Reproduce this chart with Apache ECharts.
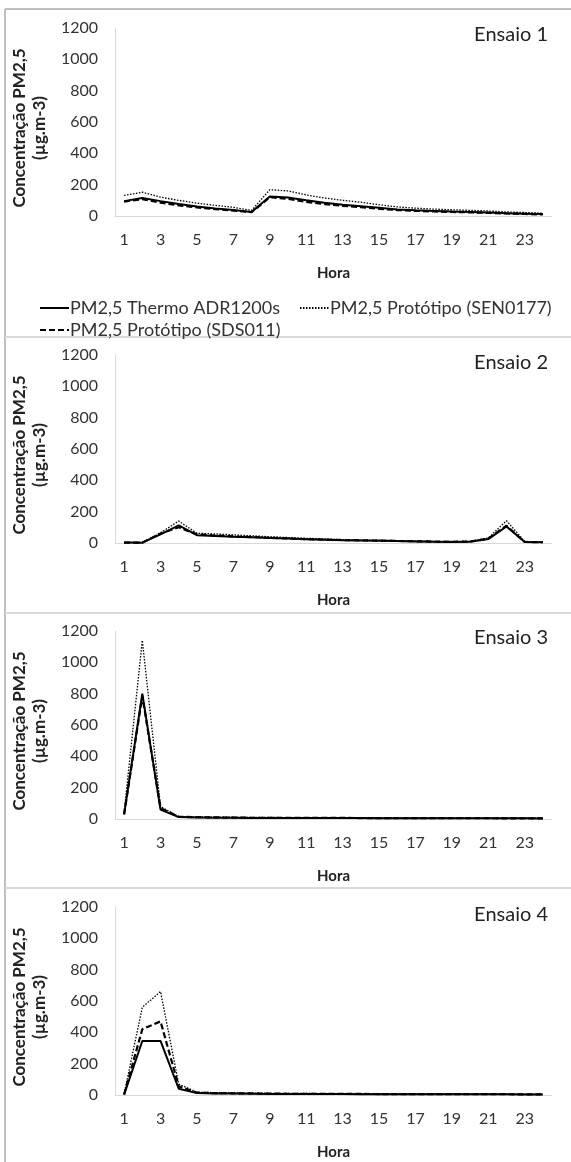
<!DOCTYPE html>
<html>
<head>
<meta charset="utf-8">
<script src="https://cdn.jsdelivr.net/npm/echarts@6/dist/echarts.min.js"></script>
<style>
html,body{margin:0;padding:0;background:#fff;}
#c{width:571px;height:1162px;}
</style>
</head>
<body>
<div id="c"></div>
<script>
const hours = ['1','2','3','4','5','6','7','8','9','10','11','12','13','14','15','16','17','18','19','20','21','22','23','24'];
const seriesNames = ['PM2,5 Thermo ADR1200s','PM2,5 Protótipo (SDS011)','PM2,5 Protótipo (SEN0177)'];
const panelTitles = ['Ensaio 1','Ensaio 2','Ensaio 3','Ensaio 4'];
const yTicks = [0,200,400,600,800,1000,1200];

// Ensaio 1
const e1Thermo = [95,115,95,76,60,48,38,25,125,118,100,85,72,62,52,42,36,32,28,25,22,18,15,12];
const e1SDS    = [92,108,85,68,55,44,34,24,120,110,90,76,65,56,46,38,33,29,26,23,20,16,13,10];
const e1SEN    = [132,152,120,100,82,68,55,35,168,160,135,115,100,88,72,58,50,44,40,36,32,26,22,18];
// Ensaio 2
const e2Thermo = [3,2,55,112,50,45,40,36,32,28,24,21,18,16,15,12,10,8,7,8,25,105,6,4];
const e2SDS    = [2,2,60,100,55,48,42,38,33,29,25,22,19,17,15,13,11,9,8,9,28,110,7,5];
const e2SEN    = [4,3,65,140,62,58,52,46,40,35,30,26,22,20,18,15,13,11,10,12,32,142,10,6];
// Ensaio 3
const e3Thermo = [30,800,60,12,10,8,8,7,7,7,6,6,6,6,5,5,5,5,4,4,4,4,4,3];
const e3SDS    = [30,785,70,14,12,10,9,8,8,8,7,7,7,6,6,6,6,5,5,5,5,4,4,4];
const e3SEN    = [40,1140,80,15,14,12,11,10,10,9,9,9,8,8,8,7,7,7,6,6,6,6,5,5];
// Ensaio 4
const e4Thermo = [2,345,345,40,12,10,9,8,7,7,6,6,6,5,5,5,5,4,4,4,4,4,3,3];
const e4SDS    = [3,420,470,55,15,12,11,10,9,8,8,7,7,7,6,6,6,5,5,5,5,5,4,4];
const e4SEN    = [5,560,660,70,18,15,13,12,11,10,10,9,9,8,8,8,7,7,7,6,6,6,6,5];

const panels = [
  [e1Thermo,e1SDS,e1SEN],
  [e2Thermo,e2SDS,e2SEN],
  [e3Thermo,e3SDS,e3SEN],
  [e4Thermo,e4SDS,e4SEN]
];

const FONT = 'Lato';
const gridTops = [28,355,631,907];
const gridH = 188;

const grids = gridTops.map(t => ({left:115, right:19, top:t, height:gridH, containLabel:false}));
const xAxes = gridTops.map((t,i) => ({
  type:'category', gridIndex:i, data:hours, boundaryGap:true,
  axisLine:{show:true, lineStyle:{color:'#d9d9d9', width:1}},
  axisTick:{show:false},
  axisLabel:{interval:1, margin:16, fontFamily:FONT, fontSize:16, color:'#333'},
  name:'Hora', nameLocation:'middle', nameGap:50,
  nameTextStyle:{fontFamily:FONT, fontSize:15, fontWeight:'bold', color:'#222'}
}));
const yAxes = gridTops.map((t,i) => ({
  type:'value', gridIndex:i, min:yTicks[0], max:yTicks[yTicks.length-1], interval:200,
  axisLine:{show:true, lineStyle:{color:'#d9d9d9', width:1}},
  axisTick:{show:false}, splitLine:{show:false},
  axisLabel:{margin:17, fontFamily:FONT, fontSize:16, color:'#333', formatter: v => String(v)},
  name:'Concentração PM2,5\n(µg.m-3)', nameLocation:'middle', nameRotate:90, nameGap:46,
  nameTextStyle:{fontFamily:FONT, fontSize:17, fontWeight:'bold', color:'#222', lineHeight:20, padding:[0,0,0,-12]}
}));

const styles = [
  {type:'solid', width:2},
  {type:[6,3], width:2.2},
  {type:[1.5,1.5], width:1.3}
];
const series = [];
panels.forEach((p,i) => {
  p.forEach((d,j) => {
    series.push({
      name:seriesNames[j], type:'line', xAxisIndex:i, yAxisIndex:i,
      data:d, symbol:'none', animation:false, color:'#000',
      itemStyle:{color:'#000'},
      lineStyle:{color:'#000', type:styles[j].type, width:styles[j].width},
      z: 3 - j
    });
  });
});

const titleCenters = [32,360,635,912];
const titles = panelTitles.map((t,i) => ({
  text:t, right:18, top:titleCenters[i]-12,
  textStyle:{fontFamily:FONT, fontSize:20, fontWeight:'normal', color:'#222'}
}));

const legendCommon = {
  itemWidth:29, itemHeight:14, itemGap:10,
  textStyle:{fontFamily:FONT, fontSize:18, color:'#333', padding:[0,0,0,-4]},
  itemStyle:{opacity:0},
  selectedMode:true
};
const legends = [
  Object.assign({}, legendCommon, {left:34, top:294, data:[seriesNames[0]]}),
  Object.assign({}, legendCommon, {left:294, top:294, data:[seriesNames[2]]}),
  Object.assign({}, legendCommon, {left:34, top:316, data:[seriesNames[1]]})
];

const sepYs = [337,613,888];
const graphics = [
  {type:'line', shape:{x1:5, y1:9, x2:571, y2:9}, style:{stroke:'#bfbfbf', lineWidth:2}},
  {type:'line', shape:{x1:5, y1:9, x2:5, y2:1162}, style:{stroke:'#bfbfbf', lineWidth:2}}
].concat(sepYs.map(y => ({type:'line', shape:{x1:5, y1:y, x2:571, y2:y}, style:{stroke:'#d9d9d9', lineWidth:2}})));

const chart = echarts.init(document.getElementById('c'), null, {renderer:'canvas'});
chart.setOption({
  backgroundColor:'#fff',
  animation:false,
  title:titles,
  legend:legends,
  grid:grids,
  xAxis:xAxes,
  yAxis:yAxes,
  series:series,
  graphic:graphics
});
</script>
</body>
</html>
